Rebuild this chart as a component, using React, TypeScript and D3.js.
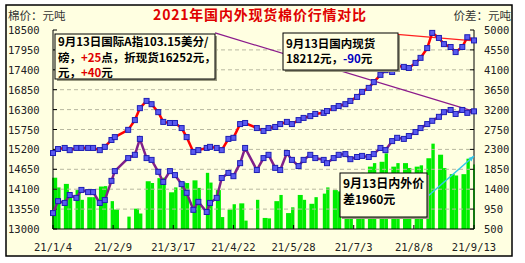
import React from "react";
import * as d3 from "d3";

const dates = ["2021-01-04","2021-01-07","2021-01-11","2021-01-14","2021-01-18","2021-01-21","2021-01-25","2021-01-28","2021-02-01","2021-02-04","2021-02-08","2021-02-10","2021-02-18","2021-02-22","2021-02-25","2021-03-01","2021-03-04","2021-03-08","2021-03-11","2021-03-15","2021-03-18","2021-03-22","2021-03-25","2021-03-29","2021-04-01","2021-04-06","2021-04-08","2021-04-12","2021-04-15","2021-04-19","2021-04-22","2021-04-26","2021-04-29","2021-05-06","2021-05-10","2021-05-13","2021-05-17","2021-05-20","2021-05-24","2021-05-27","2021-05-31","2021-06-03","2021-06-07","2021-06-10","2021-06-15","2021-06-17","2021-06-21","2021-06-24","2021-06-28","2021-07-01","2021-07-05","2021-07-08","2021-07-12","2021-07-15","2021-07-19","2021-07-22","2021-07-26","2021-07-29","2021-08-02","2021-08-05","2021-08-09","2021-08-12","2021-08-16","2021-08-19","2021-08-23","2021-08-26","2021-08-30","2021-09-02","2021-09-06","2021-09-09","2021-09-13"];

const domestic = [15100,15210,15240,15180,15240,15240,15240,15240,15180,15270,
15460,15540,15740,16010,16340,16540,16450,16230,15960,15930,
15930,15790,15540,15130,15180,15240,15270,15240,15180,15490,
15520,15900,15930,15790,15710,15790,15820,15900,15960,15900,
16010,16070,16120,16180,16210,16260,16340,16400,16450,16540,
16650,16790,16900,17060,17260,17390,17340,17510,17480,17450,
17590,17730,18000,18420,18280,18110,18030,17890,18030,18300,
18212];

const international = [13440,13770,13720,13940,13860,14080,14020,14020,13720,13800,
14330,14600,14960,15050,15490,14960,14910,14580,14300,14600,
14490,14240,14000,13530,13750,13470,13720,13860,14410,14550,
14460,14820,15240,14630,14960,15050,14690,14630,15100,14910,
14740,14910,15050,14960,14910,14820,14960,15050,15070,14930,
14990,15020,14990,15070,15240,15180,15430,15520,15490,15570,
15680,15790,15900,15990,16100,16230,16290,16180,16290,16210,
16252];

const spread = [1660,1440,1520,1240,1380,1160,1220,1220,1460,1470,
1130,940,780,960,850,1580,1540,1650,1660,1330,
1440,1550,1540,1600,1430,1770,1550,1380,770,940,
1060,1080,690,1160,750,740,1130,1270,860,990,
1270,1160,1070,1220,1300,1440,1380,1350,1380,1610,
1660,1770,1910,1990,2020,2210,1910,1990,1990,1880,
1910,1940,2100,2430,2180,1880,1740,1710,1740,2090,
1960];

const xTickLabels = ["21/1/4","21/2/9","21/3/17","21/4/22","21/5/28","21/7/3","21/8/8","21/9/13"];
const xTickDates = ["2021-01-04","2021-02-09","2021-03-17","2021-04-22","2021-05-28","2021-07-03","2021-08-08","2021-09-13"];
const leftTicks = [13000,13550,14100,14650,15200,15750,16300,16850,17400,17950,18500];
const rightTicks = [500,950,1400,1850,2300,2750,3200,3650,4100,4550,5000];

// trend / arrow anchors in data space
const intlTrend = [["2021-04-11", 18420], ["2021-09-13", 16252]];
const domTrend = [["2021-07-29", 18380], ["2021-09-13", 18200]];
const spreadArrow = [["2021-08-16", 1230], ["2021-09-13", 2150]];

const title = "2021年国内外现货棉价行情对比";
const leftUnit = "棉价：元吨";
const rightUnit = "价差：元吨";

const parse = d3.timeParse("%Y-%m-%d");

export default function App() {
  const W = 525, H = 263;
  const L = 53, R = 474, T = 30, B = 229;
  const pd = dates.map((s) => parse(s) as Date);
  const x = d3.scaleTime().domain([parse("2021-01-04") as Date, parse("2021-09-13") as Date]).range([L, R]);
  const yL = d3.scaleLinear().domain([13000, 18500]).range([B, T]);
  const yR = d3.scaleLinear().domain([500, 5000]).range([B, T]);
  const dayW = x(parse("2021-01-05") as Date) - x(parse("2021-01-04") as Date);

  const lineL = d3.line<[Date, number]>().x((d) => x(d[0])).y((d) => yL(d[1]));
  const domPts: [Date, number][] = pd.map((d, i) => [d, domestic[i]]);
  const intPts: [Date, number][] = pd.map((d, i) => [d, international[i]]);

  const bars = pd.map((d, i) => {
    const sat = d3.timeSaturday.ceil(d3.timeDay.offset(d, 1));
    let end = i < pd.length - 1 ? (pd[i + 1] < sat ? pd[i + 1] : sat) : d3.timeDay.offset(d, 1);
    const x0 = x(d) - dayW / 2;
    const x1 = x(end) - dayW / 2;
    return { x0, x1, y: yR(spread[i]) };
  });

  const mono = "'DejaVu Sans Mono', monospace";
  const cjk = "'Noto Sans CJK SC', sans-serif";

  const it = intlTrend.map(([d, v]) => [x(parse(d as string) as Date), yL(v as number)]);
  const dt = domTrend.map(([d, v]) => [x(parse(d as string) as Date), yL(v as number)]);
  const ar = spreadArrow.map(([d, v]) => [x(parse(d as string) as Date), yR(v as number)]);
  const ang = Math.atan2(ar[1][1] - ar[0][1], ar[1][0] - ar[0][0]);
  const ah = 6;
  const arrowHead = [
    [ar[1][0], ar[1][1]],
    [ar[1][0] - ah * Math.cos(ang - 0.4), ar[1][1] - ah * Math.sin(ang - 0.4)],
    [ar[1][0] - ah * Math.cos(ang + 0.4), ar[1][1] - ah * Math.sin(ang + 0.4)],
  ].map((p) => p.join(",")).join(" ");

  const Box = ({ x0, y0, w, h, children }: any) => (
    <g>
      <rect x={x0 + 2} y={y0 + 2} width={w} height={h} fill="#9a9a80" />
      <rect x={x0} y={y0} width={w} height={h} fill="#FFFFE1" stroke="#000" strokeWidth={1} />
      {children}
    </g>
  );

  return (
    <svg width={W} height={H} style={{ position: "absolute", left: 0, top: 0 }}>
      <rect x={0} y={0} width={W} height={H} fill="#fff" />
      <rect x={6} y={5} width={506} height={251} fill="#FFFFE1" stroke="#000" strokeWidth={1.5} />
      <text x={260} y={20} textAnchor="middle" fill="#E00000" fontSize={14} fontWeight="bold" fontFamily={cjk} letterSpacing={0.8}>{title}</text>
      <text x={8} y={20} fill="#333" fontSize={11.5} fontFamily={cjk}>{leftUnit}</text>
      <text x={511} y={20} textAnchor="end" fill="#333" fontSize={11.5} fontFamily={cjk}>{rightUnit}</text>

      {/* spread bars */}
      {bars.map((b, i) => (
        <rect key={"b" + i} x={b.x0} y={b.y} width={Math.max(0.5, b.x1 - b.x0)} height={B - b.y} fill="#00EE00" />
      ))}

      {/* gridlines */}
      {leftTicks.slice(1, -1).map((v) => (
        <line key={"g" + v} x1={L} x2={R} y1={yL(v)} y2={yL(v)} stroke="#B8B8A0" strokeDasharray="4,3" strokeWidth={1} />
      ))}

      {/* axes */}
      <line x1={L} x2={L} y1={T} y2={B} stroke="#000" />
      <line x1={R} x2={R} y1={T} y2={B} stroke="#000" />
      <line x1={L} x2={R} y1={B} y2={B} stroke="#000" />
      {leftTicks.map((v) => (
        <g key={"l" + v}>
          <line x1={L} x2={L + 4} y1={yL(v)} y2={yL(v)} stroke="#000" />
          <text x={8} y={yL(v) + 4} fontSize={10.5} fontFamily={mono} fill="#222">{v}</text>
        </g>
      ))}
      {rightTicks.map((v) => (
        <g key={"r" + v}>
          <line x1={R - 4} x2={R} y1={yR(v)} y2={yR(v)} stroke="#000" />
          <text x={484} y={yR(v) + 4} fontSize={10.5} fontFamily={mono} fill="#222">{v}</text>
        </g>
      ))}
      {xTickDates.map((s, i) => {
        const xx = x(parse(s) as Date);
        return (
          <g key={"x" + s}>
            <line x1={xx} x2={xx} y1={B} y2={B - 4} stroke="#000" />
            <text x={xx} y={251} textAnchor="middle" fontSize={10.5} fontFamily={mono} fill="#222">{xTickLabels[i]}</text>
          </g>
        );
      })}

      {/* trend lines */}
      <line x1={it[0][0]} y1={it[0][1]} x2={it[1][0]} y2={it[1][1]} stroke="#8B1A8B" strokeWidth={1.2} />
      <line x1={dt[0][0]} y1={dt[0][1]} x2={dt[1][0]} y2={dt[1][1]} stroke="#FF2020" strokeWidth={1.2} />

      {/* price lines */}
      <path d={lineL(domPts) || ""} fill="none" stroke="#FF0000" strokeWidth={2.5} />
      <path d={lineL(intPts) || ""} fill="none" stroke="#80208A" strokeWidth={2.5} />
      {domPts.map((p, i) => (
        <rect key={"dm" + i} x={x(p[0]) - 2.5} y={yL(p[1]) - 2.5} width={5} height={5} fill="#5A5AF0" stroke="#1E1EB4" strokeWidth={1} />
      ))}
      {intPts.map((p, i) => (
        <rect key={"im" + i} x={x(p[0]) - 2.5} y={yL(p[1]) - 2.5} width={5} height={5} fill="#5A5AF0" stroke="#1E1EB4" strokeWidth={1} />
      ))}

      {/* arrow */}
      <line x1={ar[0][0]} y1={ar[0][1]} x2={ar[1][0]} y2={ar[1][1]} stroke="#33C8E8" strokeWidth={1.5} />
      <polygon points={arrowHead} fill="#33C8E8" />

      {/* annotation boxes */}
      <Box x0={55} y0={34} w={160} h={45}>
        <text x={58} y={46} fontSize={11.5} fontWeight="bold" fontFamily={cjk} fill="#000">9月13日国际A指103.15美分/</text>
        <text x={58} y={62} fontSize={11.5} fontWeight="bold" fontFamily={cjk} fill="#000">磅，<tspan fill="#E00000">+25</tspan>点，折现货16252元，</text>
        <text x={58} y={77} fontSize={11.5} fontWeight="bold" fontFamily={cjk} fill="#000">元，<tspan fill="#E00000">+40</tspan>元</text>
      </Box>
      <Box x0={283} y0={33} w={115} h={37}>
        <text x={286} y={47.5} fontSize={11.5} fontWeight="bold" fontFamily={cjk} fill="#000">9月13日国内现货</text>
        <text x={286} y={63} fontSize={11.5} fontWeight="bold" fontFamily={cjk} fill="#000">18212元，<tspan fill="#0000C0">-90</tspan>元</text>
      </Box>
      <Box x0={340} y0={173} w={87} h={44}>
        <text x={343} y={188} fontSize={12} fontWeight="bold" fontFamily={cjk} fill="#000">9月13日内外价</text>
        <text x={343} y={204} fontSize={12} fontWeight="bold" fontFamily={cjk} fill="#000">差1960元</text>
      </Box>
    </svg>
  );
}
